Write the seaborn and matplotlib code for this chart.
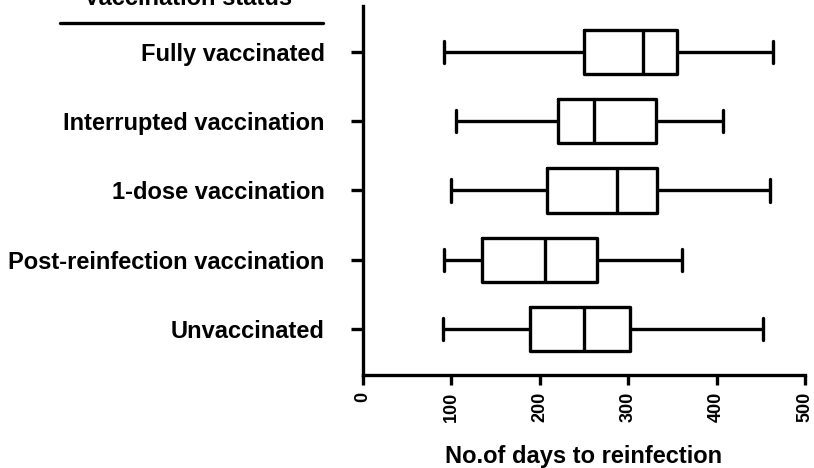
import numpy as np
import pandas as pd
import matplotlib
matplotlib.use("Agg")
import matplotlib.pyplot as plt
import seaborn as sns

# five-number summaries: min, Q1, median, Q3, max (days)
groups = ["Fully vaccinated", "Interrupted vaccination", "1-dose vaccination",
          "Post-reinfection vaccination", "Unvaccinated"]
fully = [92, 250, 317, 355, 464]
interrupted = [105, 220, 261, 331, 407]
one_dose = [100, 208, 287, 332, 460]
post_reinf = [92, 134, 206, 265, 361]
unvacc = [90, 189, 250, 302, 452]

xticks = [0, 100, 200, 300, 400, 500]

rows = []
for g, vals in zip(groups, [fully, interrupted, one_dose, post_reinf, unvacc]):
    for v in vals:
        rows.append({"status": g, "days": v})
df = pd.DataFrame(rows)

sns.set_style("ticks")
plt.rcParams["font.family"] = ["Liberation Sans", "DejaVu Sans"]
plt.rcParams["font.weight"] = "bold"
plt.rcParams["text.color"] = "black"
plt.rcParams["xtick.color"] = "black"
plt.rcParams["ytick.color"] = "black"
plt.rcParams["axes.labelcolor"] = "black"

fig = plt.figure(figsize=(8.14, 4.68), dpi=100)
ax = fig.add_axes([0.446, 0.199, 0.543, 0.788])

lw = 2.4
sns.boxplot(data=df, x="days", y="status", order=groups, whis=(0, 100),
            fill=False, color="black", linecolor="black", linewidth=lw,
            width=0.64, showfliers=False, ax=ax)

ax.set_xlim(0, 500)
ax.set_ylim(4.66, -0.66)
ax.set_xticks(xticks)
ax.set_xticklabels([str(t) for t in xticks], rotation=90, fontsize=13, fontweight="bold")
ax.set_yticks(range(len(groups)))
ax.set_yticklabels(groups, fontsize=17, fontweight="bold")
ax.tick_params(axis="y", length=8.6, width=lw, pad=19, colors="black")
ax.tick_params(axis="x", length=7, width=lw, pad=5, colors="black")
ax.set_ylabel("")
ax.set_xlabel("No.of days to reinfection", fontsize=17, fontweight="bold",
              va="baseline")
ax.xaxis.set_label_coords(0.5, -0.238)

for s in ["top", "right"]:
    ax.spines[s].set_visible(False)
for s in ["left", "bottom"]:
    ax.spines[s].set_linewidth(lw)
    ax.spines[s].set_color("black")

# header above the category labels
fig.text(188 / 814, 1 - 5 / 468, "Vaccination status", ha="center", va="baseline",
         fontsize=17, fontweight="bold")
fig.add_artist(plt.Line2D([60 / 814, 323 / 814], [1 - 23 / 468, 1 - 23 / 468],
                          color="black", linewidth=lw, transform=fig.transFigure))

fig.savefig("out.png", dpi=100)
